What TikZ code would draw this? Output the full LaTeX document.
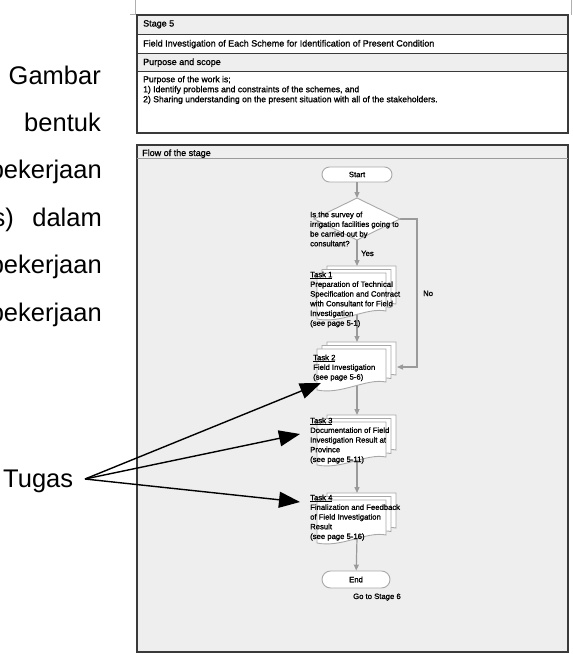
\documentclass[tikz,border=0pt]{standalone}
\usepackage{fontspec}
\setmainfont{Liberation Sans}
\newfontfamily\heavyfont{Liberation Sans}[FakeBold=1.2]
\usetikzlibrary{arrows.meta}
\definecolor{panel}{HTML}{EEEEEE}
\definecolor{flowgray}{HTML}{9A9A9A}
\definecolor{docgray}{HTML}{A8A8A8}
\definecolor{frame}{HTML}{3A3A3A}
\definecolor{cropgray}{HTML}{B0B0B0}

\newcommand\flowfont{\heavyfont\fontsize{7.7}{9.7}\selectfont}
\newcommand\tablefont{\heavyfont\fontsize{9}{10}\selectfont}
\newcommand\bigfont{\fontsize{25.5}{30}\selectfont}

% one sheet of a stacked-document symbol: top-left (#1,#2), width #3, left height #4
\newcommand\docpage[4]{%
  \filldraw[docsheet] (#1,#2) -- ({#1+#3},#2) -- ({#1+#3},{#2+#4-8})
    .. controls ({#1+#3-20},{#2+#4-12}) and ({#1+25},{#2+#4+5}) .. (#1,{#2+#4}) -- cycle;}
% three sheets: left x of the front sheet, its top, its height
\newcommand\docstack[3]{%
  \docpage{#1+10}{#2-7}{69}{#3}%
  \docpage{#1+5}{#2-3.5}{69}{#3}%
  \docpage{#1}{#2}{69}{#3}}

\begin{document}
\begin{tikzpicture}[x=1pt,y=-1pt,
  docsheet/.style={fill=white,draw=docgray,line width=0.9pt},
  flowline/.style={draw=flowgray,line width=1.2pt,-{Triangle[width=5pt,length=6pt]}},
  term/.style={draw=docgray,fill=white,line width=0.9pt,rounded corners=7.5pt,
    minimum width=70pt,minimum height=15pt,inner sep=0pt,font=\flowfont},
  small/.style={inner sep=0pt,font=\flowfont},
  tabtxt/.style={inner sep=0pt,font=\tablefont,anchor=base west},
  block/.style={anchor=north west,inner sep=0pt,align=left,font=\flowfont},
  bigtxt/.style={inner sep=0pt,font=\bigfont},
  pointer/.style={line width=1.4pt,-{Triangle[width=16pt,length=21pt]}}]
\useasboundingbox (0,0) rectangle (573,654);
\clip (0,0) rectangle (573,654);

% crop marks above the sheet
\draw[cropgray,line width=0.8pt] (135,0) -- (135,15) (130,14) -- (137,14) (571.5,0) -- (571.5,15);

% header table
\fill[panel] (137,15) rectangle (568,34);
\fill[panel] (137,53) rectangle (568,71);
\fill[white] (137,34) rectangle (568,53);
\fill[white] (137,71) rectangle (568,133);
\draw[frame,line width=0.9pt] (137,34) -- (568,34) (137,53) -- (568,53) (137,71) -- (568,71);
\draw[frame,line width=1.3pt] (137,15) rectangle (568,133);

\node[tabtxt] (stage) at (143,26.5) {Stage 5};
\node[tabtxt] (title) at (143,46.5) {Field Investigation of Each Scheme for Identification of Present Condition};
\node[tabtxt] (scope) at (143,65) {Purpose and scope};
\node[block,font=\heavyfont\fontsize{8.6}{10}\selectfont] (purpose) at (143,75.5) {\rule{0pt}{6.5pt}Purpose of the work is;\\
  1) Identify problems and constraints of the schemes, and\\
  2) Sharing understanding on the present situation with all of the stakeholders.};

% flow panel
\filldraw[fill=panel,draw=frame,line width=1.3pt] (137,145) rectangle (568,652);
\draw[flowgray,line width=0.8pt] (137,158) -- (568,158);
\node[tabtxt] (flowhead) at (142,156) {Flow of the stage};

% anchor points of the flow
\coordinate (dtop) at (357,198);
\coordinate (dright) at (400,219);
\coordinate (dbot) at (357,240);
\coordinate (dleft) at (314,219);
\coordinate (t1top) at (357,266);
\coordinate (t1bot) at (357,312);
\coordinate (t2top) at (357,342);
\coordinate (t2side) at (397,367);
\coordinate (t2bot) at (357,385);
\coordinate (t3top) at (357,415);
\coordinate (t3bot) at (357,460);
\coordinate (t4top) at (357,493);
\coordinate (t4bot) at (357,538);

\node[term] (start) at (357,174.5) {Start};
\node[term,minimum width=68pt,minimum height=17pt,rounded corners=8.5pt] (end) at (356,579.5) {End};

% connectors
\draw[flowline] (start) -- (dtop);
\draw[flowline] (dbot) -- (t1top);
\draw[flowline] (dright) -- ++(17,0) |- (t2side);
\draw[flowline] (t1bot) -- (t2top);
\draw[flowline] (t2bot) -- (t3top);
\draw[flowline] (t3bot) -- (t4top);
\draw[flowline] (t4bot) -- (end);

% decision
\filldraw[fill=white,draw=docgray,line width=0.9pt] (dtop) -- (dright) -- (dbot) -- (dleft) -- cycle;
\node[block] (question) at (310,211) {\rule{0pt}{6pt}Is the survey of\\irrigation facilities going to\\be carried out by\\consultant?};
\node[small,anchor=base west] (yes) at (361,256) {Yes};
\node[small,anchor=base west] (no) at (423,296) {No};

% task sheets
\docstack{317}{273}{46}
\docstack{317}{349}{41}
\docstack{317}{422}{43}
\docstack{317}{500}{43}

\node[block] (task1) at (310,271) {\rule{0pt}{6pt}\underline{Task 1}\\Preparation of Technical\\Specification and Contract\\with Consultant for Field\\Investigation\\(see page 5-1)};
\node[block] (task2) at (313,354) {\rule{0pt}{6pt}\underline{Task 2}\\Field Investigation\\(see page 5-6)};
\node[block] (task3) at (310,417) {\rule{0pt}{6pt}\underline{Task 3}\\Documentation of Field\\Investigation Result at\\Province\\(see page 5-11)};
\node[block] (task4) at (310,494) {\rule{0pt}{6pt}\underline{Task 4}\\Finalization and Feedback\\of Field Investigation\\Result\\(see page 5-16)};

\node[small,anchor=base west] (next) at (353,599) {Go to Stage 6};

% running text at the left
\node[bigtxt,anchor=base east] (w1) at (101,84) {Gambar};
\node[bigtxt,anchor=base east] (w2) at (101,131) {bentuk};
\node[bigtxt,anchor=base east] (w3) at (102,178) {pekerjaan};
\node[bigtxt,anchor=base east] (w4a) at (14,226) {s)};
\node[bigtxt,anchor=base east] (w4b) at (102,226) {dalam};
\node[bigtxt,anchor=base east] (w5) at (102,273) {pekerjaan};
\node[bigtxt,anchor=base east] (w6) at (102,321) {pekerjaan};

% callout to the tasks
\node[bigtxt,anchor=base west] (tugas) at (3,487) {Tugas};
\coordinate (tg) at (85,479);
\coordinate (tip2) at (321,383);
\coordinate (tip3) at (300,434);
\coordinate (tip4) at (300,502);
\draw[pointer] (tg) -- (tip2);
\draw[pointer] (tg) -- (tip3);
\draw[pointer] (tg) -- (tip4);
\end{tikzpicture}
\end{document}
